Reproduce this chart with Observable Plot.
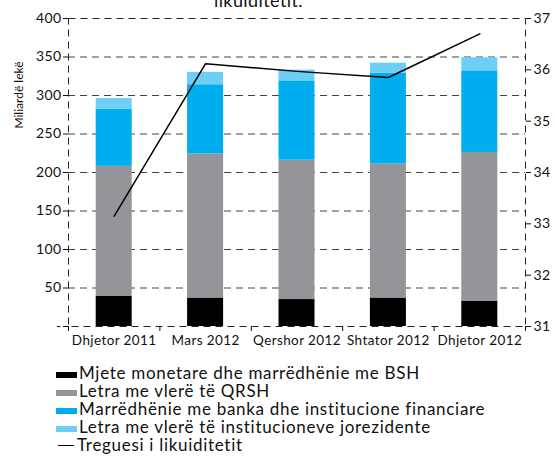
<!DOCTYPE html>
<html><head><meta charset="utf-8">
<script src="https://cdn.jsdelivr.net/npm/d3@7"></script>
<script src="https://cdn.jsdelivr.net/npm/@observablehq/plot@0.6"></script>
<style>
body{margin:0;background:#fff;overflow:hidden;font-family:Lato,"Open Sans",sans-serif;color:#111}
#wrap{position:relative;width:555px;height:456px;overflow:hidden}
#title{position:absolute;top:-9px;left:214px;font-size:18px;line-height:18px;white-space:nowrap;letter-spacing:0.4px}
#ylab{position:absolute;left:10px;top:95px;font-size:12px;transform:translate(-50%,-50%) rotate(-90deg);transform-origin:center;white-space:nowrap;margin-left:8px}
#chart{position:absolute;top:0;left:0}
#chart svg text{letter-spacing:0.4px}
#legend{position:absolute;top:364px;left:56px;font-size:17px;line-height:18px;letter-spacing:0.7px}
.row{display:flex;align-items:flex-end;height:18px;white-space:nowrap}
.sw{width:21px;height:6px;margin-right:2px;margin-bottom:4px;flex:none}
.ln{width:16px;height:1.5px;background:#000;margin:0 3px 8px 2px;flex:none}
</style></head><body>
<div id="wrap">
<div id="chart"></div>
<div id="title">likuiditetit.</div>
<div id="ylab">Miliardë lekë</div>
<div id="legend"></div>
</div>
<script>
const categories = ["Dhjetor 2011","Mars 2012","Qershor 2012","Shtator 2012","Dhjetor 2012"];
const seriesNames = ["Mjete monetare dhe marrëdhënie me BSH","Letra me vlerë të QRSH","Marrëdhënie me banka dhe institucione financiare","Letra me vlerë të institucioneve jorezidente"];
const lineName = "Treguesi i likuiditetit";
const mjete = [39, 37, 35, 37, 33];
const letraQRSH = [169, 187, 181, 174, 193];
const banka = [74, 90, 103, 118, 106];
const jorezidente = [14, 16, 14, 13, 17];
const treguesi = [33.15, 36.12, 35.97, 35.85, 36.70];
const leftTicks = [0, 50, 100, 150, 200, 250, 300, 350, 400];
const rightTicks = [31, 32, 33, 34, 35, 36, 37];
const colors = ["#000000", "#939598", "#00aeef", "#6dcff6"];

const seriesValues = [mjete, letraQRSH, banka, jorezidente];
const stacked = [];
categories.forEach((c, i) => {
  let base = 0;
  seriesValues.forEach((vals, s) => {
    stacked.push({i, series: seriesNames[s], y1: base, y2: base + vals[i]});
    base += vals[i];
  });
});
// right axis (31..37) mapped onto left scale (0..400)
const toLeft = v => (v - 31) * 400 / 6;
const fromLeft = y => Math.round(31 + y * 6 / 400);
const lineData = treguesi.map((v, i) => ({i, v}));
const half = 0.197;
const dash = "7,5";

const chart = Plot.plot({
  width: 555, height: 352,
  marginLeft: 68, marginRight: 30, marginTop: 18, marginBottom: 26,
  style: {fontFamily: "Lato, 'Open Sans', sans-serif", color: "#111", background: "#fff"},
  x: {type: "linear", domain: [-0.5, 4.5]},
  y: {domain: [0, 400]},
  color: {domain: seriesNames, range: colors},
  marks: [
    Plot.ruleY(leftTicks.slice(1, -1), {stroke: "#444", strokeDasharray: dash}),
    Plot.rectY(stacked, {x1: d => d.i - half, x2: d => d.i + half, y1: "y1", y2: "y2", fill: "series"}),
    Plot.frame({stroke: "#222", strokeDasharray: dash}),
    Plot.line(lineData, {x: "i", y: d => toLeft(d.v), stroke: "#000", strokeWidth: 1.5}),
    Plot.axisY({anchor: "left", ticks: leftTicks, tickFormat: d => d === 0 ? "-" : d, tickSize: 5, tickPadding: 2, fontSize: 14, label: null}),
    Plot.axisY({anchor: "right", ticks: rightTicks.map(toLeft), tickFormat: fromLeft, tickSize: 5, tickPadding: 3, fontSize: 14, label: null}),
    Plot.axisX({anchor: "bottom", ticks: categories.map((c, i) => i), tickFormat: i => categories[i], tickSize: 0, tickPadding: 9, fontSize: 13.5, label: null}),
    Plot.axisX({anchor: "bottom", ticks: [-0.5, 0.5, 1.5, 2.5, 3.5, 4.5], tickFormat: () => "", tickSize: 5, label: null})
  ]
});
document.getElementById("chart").appendChild(chart);

const legend = document.getElementById("legend");
seriesNames.forEach((n, s) => {
  const r = document.createElement("div"); r.className = "row";
  r.innerHTML = `<span class="sw" style="background:${colors[s]}"></span><span>${n}</span>`;
  legend.appendChild(r);
});
const r = document.createElement("div"); r.className = "row";
r.innerHTML = `<span class="ln"></span><span>${lineName}</span>`;
legend.appendChild(r);
</script>
</body></html>
